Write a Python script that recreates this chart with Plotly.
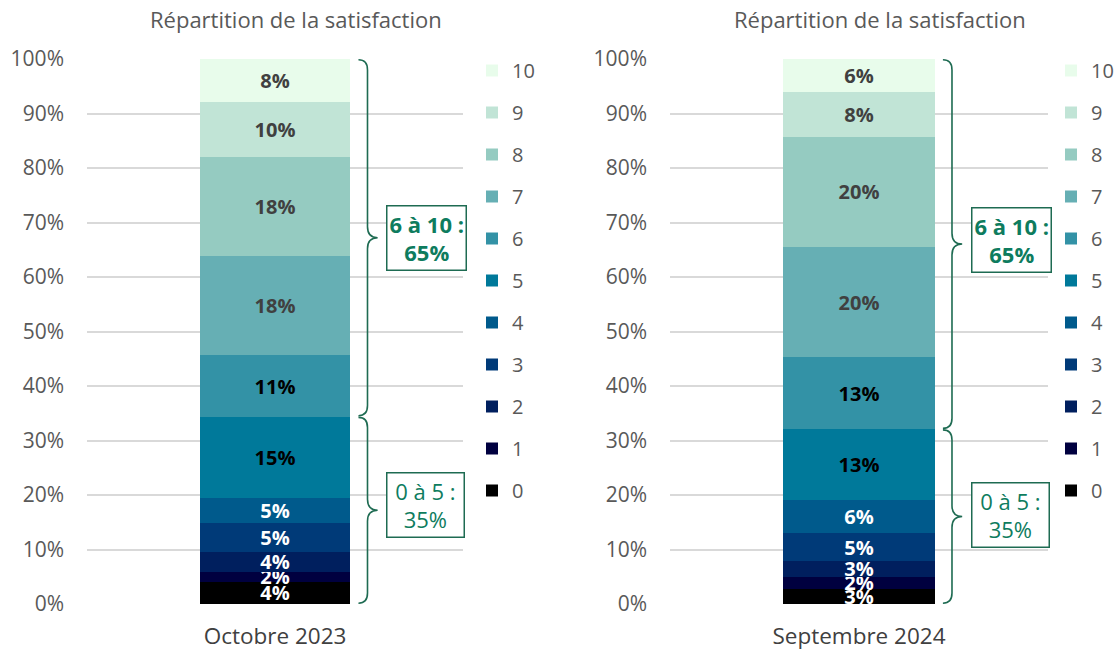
import plotly.graph_objects as go

# ---------------- data ----------------
scores = ["0", "1", "2", "3", "4", "5", "6", "7", "8", "9", "10"]
periods = ["Octobre 2023", "Septembre 2024"]
oct2023 = [4.1, 1.8, 3.7, 5.2, 4.6, 15.0, 11.2, 18.2, 18.3, 10.1, 7.8]
sep2024 = [2.8, 2.2, 2.9, 5.1, 6.1, 13.0, 13.2, 20.2, 20.2, 8.3, 6.0]
group_names = ["0 à 5 :", "6 à 10 :"]
group_totals = [["35%", "65%"], ["35%", "65%"]]
chart_title = "Répartition de la satisfaction"

# ---------------- styles ----------------
colors = ["#000000", "#00003F", "#001F5E", "#003A78", "#005A8C", "#00799A",
          "#3392A6", "#66AFB4", "#95CBC1", "#C1E4D6", "#E8FCEB"]
text_colors = ["white"] * 5 + ["black"] * 2 + ["#404040"] * 4
FONT = "Open Sans"
GREEN_TXT = "#0E7C5E"
GREEN_LINE = "#1E6B52"

W, H = 1115, 649
top, bottom = 59, 604
plot_h = bottom - top

fig = go.Figure()
series = [oct2023, sep2024]
for k, vals in enumerate(series):
    ax = "" if k == 0 else "2"
    for i, s in enumerate(scores):
        fig.add_trace(go.Bar(
            x=[periods[k]], y=[vals[i]], name=s,
            xaxis="x" + ax, yaxis="y" + ax,
            marker=dict(color=colors[i], line=dict(width=0)),
            width=0.4,
            texttemplate="%{y:.0f}%", textposition="inside",
            insidetextanchor="middle", constraintext="none",
            textfont=dict(family=FONT, size=20, color=text_colors[i], weight="bold"),
            legend="legend" if k == 0 else "legend2",
            legendgroup=f"g{k}_{i}", legendrank=100 - i,
            hoverinfo="skip",
        ))

axis_common = dict(range=[0, 100], dtick=10, ticksuffix="%", showgrid=True,
                   gridcolor="#d9d9d9", gridwidth=1.5, zeroline=False, showline=False,
                   tickfont=dict(family=FONT, size=21, color="#595959"),
                   ticklabelstandoff=22, automargin=False)
xcommon = dict(type="category", range=[-0.5, 0.5], showgrid=False, showline=False,
               zeroline=False, ticks="", automargin=False,
               tickfont=dict(family=FONT, size=22.5, color="#404040"),
               ticklabelstandoff=16)

legend_common = dict(traceorder="grouped", tracegroupgap=13, maxheight=620,
                     font=dict(family=FONT, size=20, color="#595959"),
                     yanchor="top", y=1 + 8 / plot_h, bgcolor="rgba(0,0,0,0)",
                     itemclick=False, itemdoubleclick=False)

fig.update_layout(
    width=W, height=H,
    margin=dict(l=0, r=0, t=top, b=H - bottom, autoexpand=False),
    paper_bgcolor="white", plot_bgcolor="white",
    barmode="stack", showlegend=True,
    xaxis=dict(domain=[87 / W, 463 / W], anchor="y", **xcommon),
    xaxis2=dict(domain=[670 / W, 1048 / W], anchor="y2", **xcommon),
    yaxis=dict(anchor="x", **axis_common),
    yaxis2=dict(anchor="x2", **axis_common),
    legend=dict(x=(492 - 20) / W, xanchor="left", **legend_common),
    legend2=dict(x=(1071 - 20) / W, xanchor="left", **legend_common),
)

# braces + boxes
shapes = []
annotations = []
r = 2.0
xt, xv, xc = 0.722, 0.746, 0.773
box_shift = [[5, 0], [2, 4]]
for k, vals in enumerate(series):
    ax = "" if k == 0 else "2"
    low = sum(vals[:6])
    total = sum(vals)
    spans = [(0, low), (low, total)]
    for g, (y0, y1) in enumerate(spans):
        ym = (y0 + y1) / 2
        path = (f"M{xt},{y1 - 0.15} Q{xv},{y1 - 0.15} {xv},{y1 - r} "
                f"L{xv},{ym + r} Q{xv},{ym} {xc},{ym} "
                f"Q{xv},{ym} {xv},{ym - r} "
                f"L{xv},{y0 + r} Q{xv},{y0 + 0.15} {xt},{y0 + 0.15}")
        shapes.append(dict(type="path", path=path, xref="x" + ax + " domain",
                           yref="y" + ax, line=dict(color=GREEN_LINE, width=1.6),
                           layer="above"))
        txt = f" {group_names[g]} <br>{group_totals[k][g]}"
        if g == 1:
            txt = f"<b>{group_names[g]}</b><br><b>{group_totals[k][g]}</b>"
        annotations.append(dict(
            text=txt, xref="x" + ax + " domain", yref="y" + ax,
            x=0.795, y=ym, xanchor="left", yanchor="middle",
            yshift=box_shift[k][g],
            showarrow=False, align="center",
            font=dict(family=FONT, size=22, color=GREEN_TXT),
            bordercolor=GREEN_LINE, borderwidth=1.5, borderpad=2,
            bgcolor="white"))
    annotations.append(dict(
        text=chart_title, xref="x" + ax + " domain", yref="paper",
        x=0.556, y=1 + (top - 19) / plot_h, xanchor="center", yanchor="middle",
        showarrow=False, font=dict(family=FONT, size=22, color="#595959")))

fig.update_layout(shapes=shapes, annotations=annotations)
fig.write_html("out.html", config={"displayModeBar": False},
               post_script="document.body.style.margin='0';")
